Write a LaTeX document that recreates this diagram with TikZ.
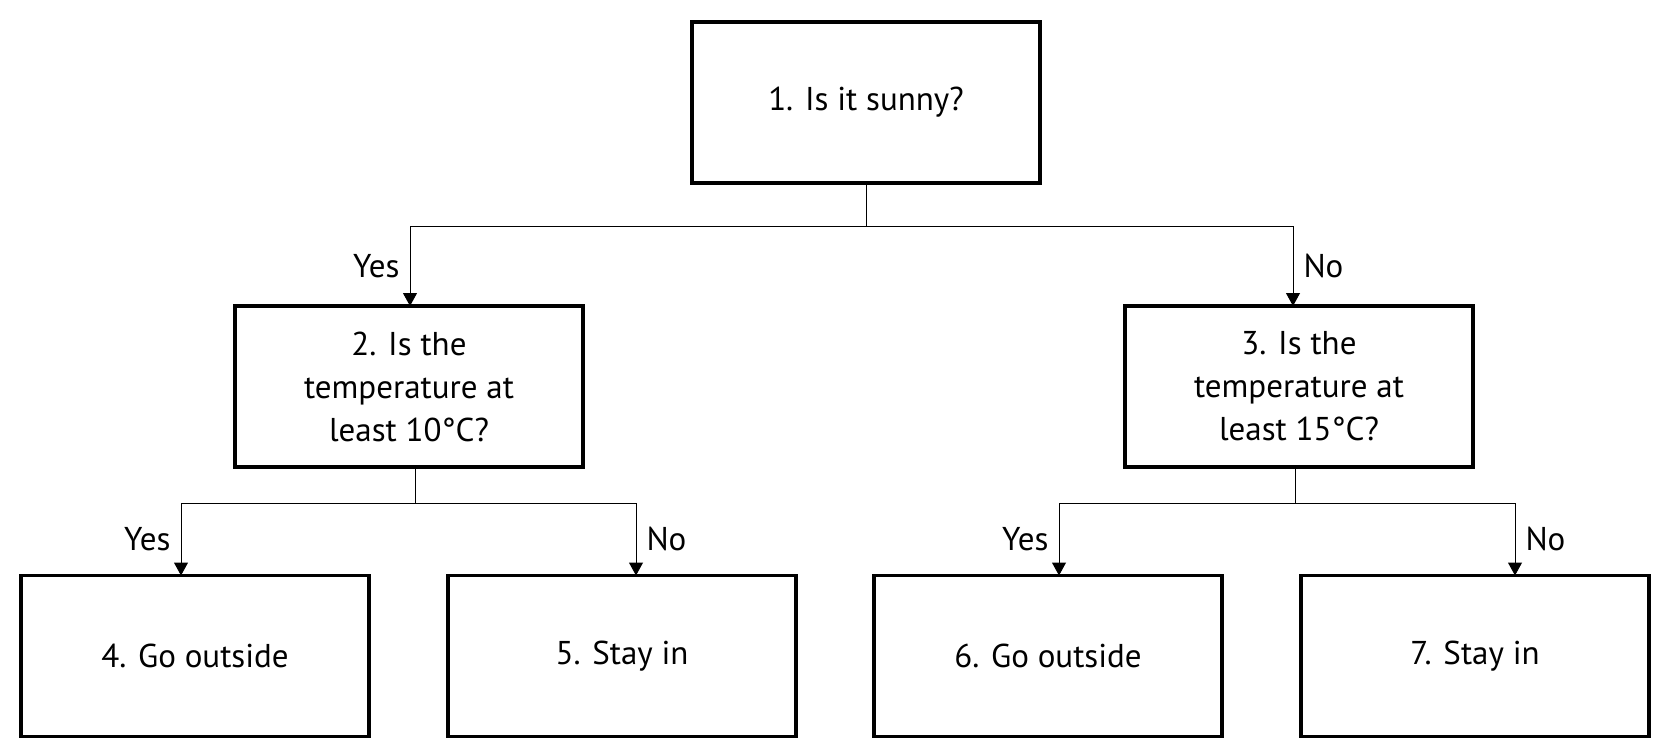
\documentclass[tikz,border=0pt]{standalone}
\usepackage{fontspec}
\setmainfont{PT Sans}
\usetikzlibrary{arrows.meta}
\begin{document}
\begin{tikzpicture}[x=0.5pt,y=-0.5pt,
  box/.style={draw, line width=1.6pt, minimum width=174pt, minimum height=80.5pt,
    align=center, inner sep=0pt, font=\fontsize{16.5}{21.5}\selectfont},
  conn/.style={line width=0.5pt},
  arr/.style={conn, -{Triangle[width=7pt,length=6.5pt]}},
  lab/.style={inner sep=5pt, font=\fontsize{16.5}{21.5}\selectfont}]
\useasboundingbox (0,0) rectangle (1665,755);
\fill[white] (0,0) rectangle (1665,755);
% boxes
\node[box] (b1) at (866,102.5) {1. Is it sunny?};
\node[box] (b2) at (409,386.5) {2. Is the\\temperature at\\least 10°C?};
\node[box] (b3) at (1299,386.5) {3. Is the\\temperature at\\least 15°C?};
\node[box] (b4) at (195,656) {4. Go outside};
\node[box] (b5) at (622,656) {5. Stay in};
\node[box] (b6) at (1048,656) {6. Go outside};
\node[box] (b7) at (1475,656) {7. Stay in};
% junctions and arrow targets
\coordinate (j1) at (866,226);
\coordinate (j2) at (415,503);
\coordinate (j3) at (1295,503);
\coordinate (t2) at (410,306);
\coordinate (t3) at (1293,306);
\coordinate (t4) at (181,575.5);
\coordinate (t5) at (636,575.5);
\coordinate (t6) at (1059,575.5);
\coordinate (t7) at (1515,575.5);
% connectors
\draw[conn] (b1.south) -- (j1);
\draw[arr] (j1) -| node[lab, pos=0.75, left] (y2) {Yes} (t2);
\draw[arr] (j1) -| node[lab, pos=0.75, right] (n3) {No} (t3);
\draw[conn] (b2.south -| j2) -- (j2);
\draw[arr] (j2) -| node[lab, pos=0.75, left] (y4) {Yes} (t4);
\draw[arr] (j2) -| node[lab, pos=0.75, right] (n5) {No} (t5);
\draw[conn] (b3.south -| j3) -- (j3);
\draw[arr] (j3) -| node[lab, pos=0.75, left] (y6) {Yes} (t6);
\draw[arr] (j3) -| node[lab, pos=0.75, right] (n7) {No} (t7);
\end{tikzpicture}
\end{document}
